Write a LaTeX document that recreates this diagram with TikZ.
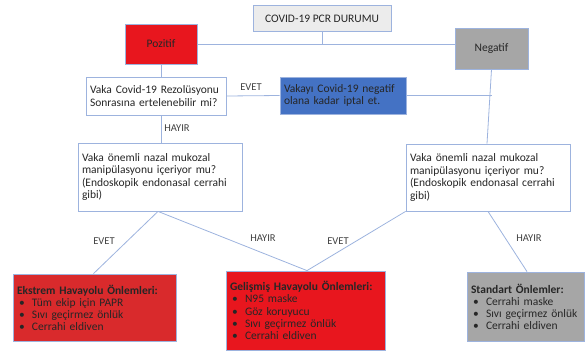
\documentclass[tikz,border=0pt]{standalone}
\usepackage{fontspec}
\setmainfont{Carlito}
\usetikzlibrary{calc,positioning}
\definecolor{mylinecol}{HTML}{9DB3DE}
\definecolor{myred}{HTML}{E8161E}
\definecolor{mydarkred}{HTML}{D92A2C}
\definecolor{mygray}{HTML}{A6A6A6}
\definecolor{myblue}{HTML}{4472C4}
\definecolor{mylight}{HTML}{ECECEC}
\newcommand{\madde}[1]{\\\hspace*{2pt}\makebox[13pt][l]{\textbullet}#1}
\tikzset{
    mybox/.style={draw=mylinecol,line width=0.8pt,inner xsep=4pt,inner ysep=2pt,align=left,
        font=\fontsize{11.5}{12.6}\selectfont,text=black!85},
    mycbox/.style={mybox,align=center},
    myedge/.style={draw=mylinecol,line width=0.8pt},
    mylabel/.style={font=\fontsize{10.5}{12}\selectfont,text=black!75}
}

\begin{document}
\begin{tikzpicture}[x=1pt,y=-1pt]
          \useasboundingbox (0,0) rectangle (585,354);
          % kutular: merkez koordinatlari ve boyutlari resimden alindi
          \node[mycbox,fill=mylight,minimum width=138pt,minimum height=26pt] (pcr) at (322,18.5) {COVID-19 PCR DURUMU};
          \node[mycbox,fill=myred,minimum width=72pt,minimum height=40pt] (poz) at (161,44) {Pozitif};
          \node[mycbox,fill=mygray,minimum width=73pt,minimum height=41pt] (neg) at (491.5,48.5) {Negatif};
          \node[mybox,text width=132pt,minimum height=38pt] (soru1) at (156,96)
              {Vaka Covid-19 Rezolüsyonu\\Sonrasına ertelenebilir mi?};
          \node[mybox,fill=myblue,text width=118pt,minimum height=37pt] (iptal) at (343,95.5)
              {Vakayı Covid-19 negatif\\olana kadar iptal et.};
          \node[mybox,text width=156pt,minimum height=68pt] (soruL) at (160,177)
              {Vaka önemli nazal mukozal\\manipülasyonu içeriyor mu?\\(Endoskopik endonasal cerrahi\\gibi)};
          \node[mybox,text width=156pt,minimum height=67pt] (soruR) at (488,177.5)
              {Vaka önemli nazal mukozal\\manipülasyonu içeriyor mu?\\(Endoskopik endonasal cerrahi\\gibi)};
          \node[mybox,fill=mydarkred,text width=155pt,minimum height=67pt,font=\fontsize{11.5}{12}\selectfont] (ekstrem) at (94.5,307.5)
              {\textbf{Ekstrem Havayolu Önlemleri:}\madde{Tüm ekip için PAPR}\madde{Sıvı geçirmez önlük}\madde{Cerrahi eldiven}};
          \node[mybox,fill=myred,text width=151pt,minimum height=79pt,font=\fontsize{11.5}{12.4}\selectfont] (gelismis) at (305.5,310.5)
              {\textbf{Gelişmiş Havayolu Önlemleri:}\madde{N95 maske}\madde{Göz koruyucu}\madde{Sıvı geçirmez önlük}\madde{Cerrahi eldiven}};
          \node[mybox,fill=mygray,text width=109pt,minimum height=69pt,font=\fontsize{11.5}{12}\selectfont] (standart) at (525.5,306.5)
              {\textbf{Standart Önlemler:}\madde{Cerrahi maske}\madde{Sıvı geçirmez önlük}\madde{Cerrahi eldiven}};
          % baglantilar
          \draw[myedge] (pcr.south) -- (pcr.south |- poz.east);
          \draw[myedge] (poz.east) -- (poz.east -| neg.west);
          \draw[myedge] (poz.south) -- (poz.south |- soru1.north);
          \draw[myedge] (soru1.east) -- (iptal.west);
          \draw[myedge] (iptal.east) -- (iptal.east -| neg.south);
          \draw[myedge] (neg.south) -- ($(soruR.north)+(-1,0)$);
          \draw[myedge] (poz.south |- soru1.south) -- (poz.south |- soruL.north);
          \draw[myedge] ($(soruL.south)+(-2,0)$) -- ($(ekstrem.north)+(-1,0)$);
          \draw[myedge] ($(soruL.south)+(-2,0)$) -- ($(gelismis.north)+(1.5,0)$);
          \draw[myedge] (soruR.south west) -- ($(gelismis.north)+(1.5,0)$);
          \draw[myedge] (soruR.south) -- ($(standart.north)+(1.5,0)$);
          % etiketler
          \node[mylabel] (e1) at (251,87) {EVET};
          \node[mylabel] (h1) at (177,128) {HAYIR};
          \node[mylabel] (e2) at (104,241) {EVET};
          \node[mylabel] (h2) at (263,238) {HAYIR};
          \node[mylabel] (e3) at (338,241) {EVET};
          \node[mylabel] (h3) at (529,238) {HAYIR};
\end{tikzpicture}
\end{document}
